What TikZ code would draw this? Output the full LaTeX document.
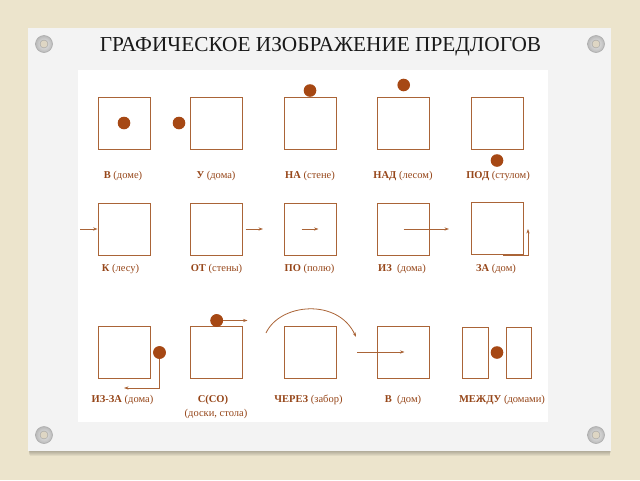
\documentclass[tikz,border=0pt]{standalone}
\usepackage{fontspec}
\setmainfont{Liberation Serif}
\usetikzlibrary{arrows.meta,calc}
\definecolor{bgbeige}{RGB}{236,228,204}
\definecolor{paper}{RGB}{243,243,243}
\definecolor{linec}{RGB}{170,100,55}
\definecolor{dotc}{RGB}{166,72,20}
\definecolor{txtc}{RGB}{150,70,25}
\definecolor{titlec}{RGB}{25,25,25}
\tikzset{
  box/.style={draw=linec, line width=0.9pt, minimum width=52pt, minimum height=52pt, inner sep=0pt},
  tallbox/.style={draw=linec, line width=0.9pt, minimum width=25.5pt, minimum height=51pt, inner sep=0pt},
  ball/.style={circle, fill=dotc, minimum size=12.6pt, inner sep=0pt},
  arr/.style={draw=linec, line width=0.8pt, -{Stealth[length=4.5pt,width=3.2pt]}},
  lbl/.style={text=txtc, font=\fontsize{10.5}{12}\selectfont, inner sep=0pt},
  screw/.style={circle, minimum size=17pt, inner sep=0pt, draw=gray!65, line width=0.6pt, inner color=gray!15, outer color=gray!55},
  screwin/.style={circle, minimum size=8pt, inner sep=0pt, fill={rgb,255:red,222;green,214;blue,196}, draw=gray!75, line width=0.4pt}
}
\begin{document}
\begin{tikzpicture}[x=1pt,y=-1pt]
\useasboundingbox (0,0) rectangle (640,480);
\fill[bgbeige] (0,0) rectangle (640,480);
% paper shadow (soft)
\foreach \k in {1,...,5}{
  \fill[black, opacity=0.05] (28.5+\k*0.2,30) rectangle (611-\k*0.2,451+\k*0.9);
}
% paper
\fill[paper] (28,28) rectangle (611,451);
\fill[white] (78,70) rectangle (548,422);
% screws
\foreach \n/\x/\y in {a/44/44, b/596/44, c/44/435, d/596/435}{
  \node[screw] (s\n) at (\x,\y) {};
  \node[screwin] (si\n) at (\x,\y) {};
}
% title
\node[text=titlec, font=\fontsize{21.3}{24}\selectfont, inner sep=0pt] (title) at (320.5,47) {ГРАФИЧЕСКОЕ ИЗОБРАЖЕНИЕ ПРЕДЛОГОВ};

% ---------- row 1 ----------
\node[box] (r1a) at (124,123) {};
\node[box] (r1b) at (216.5,123) {};
\node[box] (r1c) at (310,123) {};
\node[box] (r1d) at (403.5,123) {};
\node[box] (r1e) at (497.5,123) {};
\node[ball] (d1a) at (124,123) {};
\node[ball] (d1b) at (179,123) {};
\node[ball] (d1c) at (310,90.5) {};
\node[ball] (d1d) at (403.7,85) {};
\node[ball] (d1e) at (497,160.5) {};
\node[lbl] (l1a) at (123,176) {\textbf{В} (доме)};
\node[lbl] (l1b) at (216,176) {\textbf{У} (дома)};
\node[lbl] (l1c) at (310,176) {\textbf{НА} (стене)};
\node[lbl] (l1d) at (403,176) {\textbf{НАД} (лесом)};
\node[lbl] (l1e) at (498,176) {\textbf{ПОД} (стулом)};

% ---------- row 2 ----------
\node[box] (r2a) at (124,229.5) {};
\node[box] (r2b) at (216.5,229.5) {};
\node[box] (r2c) at (310,229.5) {};
\node[box] (r2d) at (403.5,229.5) {};
\node[box] (r2e) at (497.5,228.5) {};
\coordinate (k1) at (80,229);
\coordinate (ot1) at (245.5,229);
\coordinate (ot2) at (263,229);
\coordinate (po1) at (301.5,229);
\coordinate (po2) at (318.5,229);
\coordinate (iz1) at (403.5,229);
\coordinate (iz2) at (449,229);
\coordinate (za1) at (503,255.8);
\coordinate (za2) at (528,229);
\draw[arr] (k1) -- (r2a.west |- k1);
\draw[arr] (ot1) -- (ot2);
\draw[arr] (po1) -- (po2);
\draw[arr] (iz1) -- (iz2);
\draw[arr] (za1) -| (za2);
\node[lbl] (l2a) at (120.5,269) {\textbf{К} (лесу)};
\node[lbl] (l2b) at (216.5,269) {\textbf{ОТ} (стены)};
\node[lbl] (l2c) at (309.5,269) {\textbf{ПО} (полю)};
\node[lbl] (l2d) at (402,269) {\textbf{ИЗ}\ \ (дома)};
\node[lbl] (l2e) at (496,269) {\textbf{ЗА} (дом)};

% ---------- row 3 ----------
\node[box] (r3a) at (124,352.5) {};
\node[box] (r3b) at (216.5,352.5) {};
\node[box] (r3c) at (310,352.5) {};
\node[box] (r3d) at (403.5,352.5) {};
\node[tallbox] (r3e1) at (475.5,352.5) {};
\node[tallbox] (r3e2) at (519,352.5) {};
% ИЗ-ЗА
\node[ball] (d3a) at (159.5,352.5) {};
\coordinate (izza1) at (124,388);
\draw[arr] (d3a.center) |- (izza1);
\node[ball] (d3a2) at (159.5,352.5) {};
% С(СО)
\node[ball] (d3b) at (216.7,320.5) {};
\coordinate (s2) at (247.5,320.5);
\draw[arr] (d3b.center) -- (s2);
\node[ball] (d3b2) at (216.7,320.5) {};
% ЧЕРЕЗ
\coordinate (ch1) at (266,333);
\coordinate (ch2) at (356,337);
\draw[arr] (ch1) .. controls (280,303) and (338,298) .. (ch2);
% В (дом)
\coordinate (v1) at (357,352);
\coordinate (v2) at (404.5,352);
\draw[arr] (v1) -- (v2);
% МЕЖДУ
\node[ball] (d3e) at (497,352.5) {};
\node[lbl] (l3a) at (122.5,400) {\textbf{ИЗ-ЗА} (дома)};
\node[lbl] (l3b) at (213,400) {\textbf{С(СО)}};
\node[lbl] (l3b2) at (216,414) {(доски,\ стола)};
\node[lbl] (l3c) at (308.5,400) {\textbf{ЧЕРЕЗ} (забор)};
\node[lbl] (l3d) at (403,400) {\textbf{В}\ \ (дом)};
\node[lbl] (l3e) at (502,400) {\textbf{МЕЖДУ} (домами)};
\end{tikzpicture}
\end{document}
